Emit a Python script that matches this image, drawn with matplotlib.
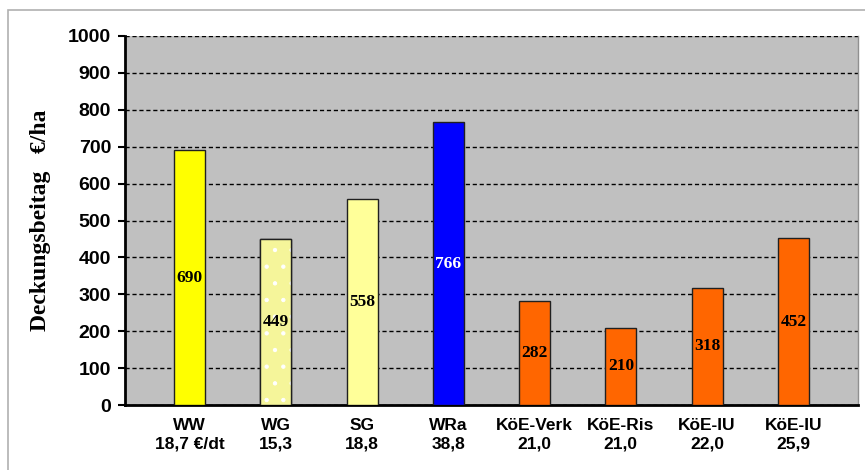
import matplotlib
matplotlib.use('Agg')
import matplotlib.pyplot as plt
from matplotlib.patches import Rectangle

# data
crops = ['WW', 'WG', 'SG', 'WRa', 'KöE-Verk', 'KöE-Ris', 'KöE-IU', 'KöE-IU']
prices = ['18,7 €/dt', '15,3', '18,8', '38,8', '21,0', '21,0', '22,0', '25,9']
values = [690, 449, 558, 766, 282, 210, 318, 452]
colors = ['#FFFF00', '#F5F59A', '#FFFF99', '#0000FF',
          '#FF6600', '#FF6600', '#FF6600', '#FF6600']
label_colors = ['black', 'black', 'black', 'white',
                'black', 'black', 'black', 'black']

plt.rcParams['hatch.linewidth'] = 0.7

fig = plt.figure(figsize=(8.65, 4.70), dpi=100)
# outer frame
fig.patches.append(Rectangle((8 / 865, -0.1), 1.1, 1 - 10 / 470 + 0.1,
                             transform=fig.transFigure, fill=False,
                             edgecolor='#B0B0B0', linewidth=1.2))

ax = fig.add_axes([125 / 865, 1 - 405 / 470, (858 - 125) / 865, (405 - 36) / 470])
ax.set_facecolor('#C0C0C0')

x = list(range(len(values)))
w = 0.36
bars = ax.bar(x, values, width=w, color=colors, edgecolor='#202020',
              linewidth=1.0, zorder=3)
# dotted pattern for WG
ax.bar(x[1], values[1], width=w, color=colors[1], edgecolor='white',
       hatch='.', linewidth=0, zorder=3)
ax.bar(x[1], values[1], width=w, fill=False, edgecolor='#202020',
       linewidth=1.0, zorder=4)

for xi, v, c in zip(x, values, label_colors):
    ax.text(xi, v / 2, str(v), ha='center', va='center', color=c,
            fontsize=12.5, fontweight='bold', family='Liberation Serif', zorder=5)

ax.set_xlim(-0.75, 7.75)
ax.set_ylim(0, 1000)
ax.set_yticks(range(0, 1001, 100))
ax.yaxis.grid(True, color='black', linestyle=(0, (3, 2)), linewidth=1.0, zorder=1)
ax.set_axisbelow(True)

ax.set_xticks(x)
ax.set_xticklabels([f'{c}\n{p}' for c, p in zip(crops, prices)],
                   fontsize=12.5, fontweight='bold', family='Liberation Sans',
                   linespacing=1.3)
ax.tick_params(axis='x', length=0, pad=9)
ax.tick_params(axis='y', length=5, width=1.5, direction='out', pad=5)
for lab in ax.get_yticklabels():
    lab.set_fontsize(14)
    lab.set_fontweight('bold')
    lab.set_family('Liberation Sans')

ax.spines['left'].set_linewidth(2)
ax.spines['bottom'].set_linewidth(2)
ax.spines['top'].set_visible(False)
ax.spines['right'].set_color('#909090')
ax.spines['right'].set_linewidth(1)

fig.text(41 / 865, 1 - 220 / 470, 'Deckungsbeitag   €/ha', rotation=90,
         ha='center', va='center', fontsize=17, fontweight='bold',
         family='Liberation Serif')

fig.savefig('out.png', dpi=100)
